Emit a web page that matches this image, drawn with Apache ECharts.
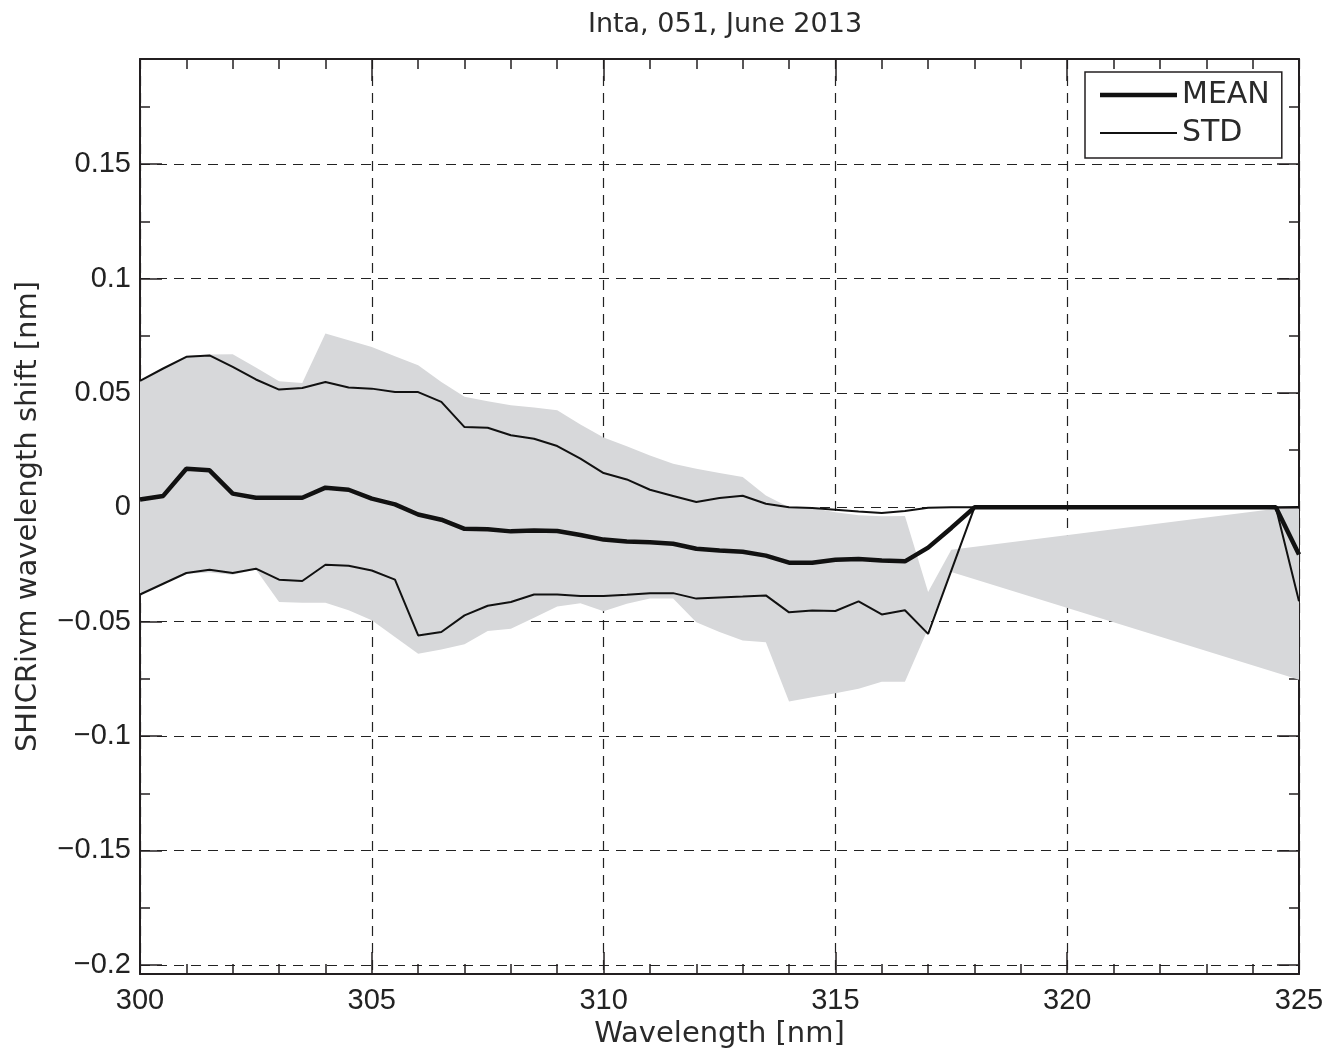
<!DOCTYPE html>
<html>
<head>
<meta charset="utf-8">
<script src="https://cdn.jsdelivr.net/npm/echarts@6/dist/echarts.min.js"></script>
<style>
html,body{margin:0;padding:0;background:#fff;}
#chart{width:1343px;height:1055px;}
</style>
</head>
<body>
<div id="chart"></div>
<script>
// Wavelength grid (nm)
const wavelength = [300,300.5,301,301.5,302,302.5,303,303.5,304,304.5,305,305.5,306,306.5,307,307.5,308,308.5,309,309.5,310,310.5,311,311.5,312,312.5,313,313.5,314,314.5,315,315.5,316,316.5,317,317.5,318,318.5,319,319.5,320,320.5,321,321.5,322,322.5,323,323.5,324,324.5,325];

// MEAN line
const meanShift = [0.0034,0.0050,0.0169,0.0162,0.0060,0.0042,0.0042,0.0042,0.0086,0.0077,0.0038,0.0013,-0.0031,-0.0054,-0.0094,-0.0096,-0.0105,-0.0101,-0.0103,-0.0121,-0.0141,-0.0149,-0.0153,-0.0159,-0.0181,-0.0189,-0.0194,-0.0211,-0.0242,-0.0242,-0.0229,-0.0226,-0.0232,-0.0236,-0.0176,-0.0090,0,0,0,0,0,0,0,0,0,0,0,0,0,0,-0.0206];

// STD lines (upper and lower)
const stdUpper = [0.0553,0.0607,0.0658,0.0664,0.0614,0.0559,0.0515,0.0522,0.0548,0.0524,0.0519,0.0504,0.0504,0.0461,0.0351,0.0348,0.0315,0.0300,0.0268,0.0213,0.0150,0.0122,0.0077,0.0050,0.0023,0.0041,0.0051,0.0016,0.0000,-0.0003,-0.0010,-0.0018,-0.0025,-0.0016,-0.0002,0,0,0,0,0,0,0,0,0,0,0,0,0,0,0,0.0002];
const stdLower = [-0.0381,-0.0334,-0.0287,-0.0273,-0.0287,-0.0268,-0.0316,-0.0322,-0.0251,-0.0255,-0.0276,-0.0316,-0.0560,-0.0545,-0.0472,-0.0430,-0.0414,-0.0381,-0.0381,-0.0388,-0.0388,-0.0382,-0.0375,-0.0375,-0.0399,-0.0394,-0.0390,-0.0385,-0.0459,-0.0451,-0.0453,-0.0411,-0.0468,-0.0450,-0.0553,-0.0277,0,0,0,0,0,0,0,0,0,0,0,0,0,0,-0.0410];

// Grey band envelope (null = no value)
const bandUpper = [0.0556,0.0610,0.0662,0.0668,0.0669,0.0611,0.0551,0.0544,0.0760,0.0730,0.0701,0.0661,0.0621,0.0548,0.0483,0.0464,0.0446,0.0436,0.0424,0.0362,0.0305,0.0267,0.0227,0.0191,0.0169,0.0150,0.0133,0.0052,0.0000,-0.0003,-0.0021,-0.0035,-0.0039,-0.0038,-0.0370,-0.0185,null,null,null,null,null,null,null,null,null,null,null,null,null,-0.0006,-0.0006];
const bandLower = [-0.0384,-0.0336,-0.0290,-0.0285,-0.0295,-0.0272,-0.0414,-0.0417,-0.0417,-0.0450,-0.0494,-0.0567,-0.0640,-0.0621,-0.0598,-0.0541,-0.0531,-0.0483,-0.0433,-0.0419,-0.0454,-0.0421,-0.0399,-0.0399,-0.0502,-0.0545,-0.0582,-0.0590,-0.0849,-0.0830,-0.0813,-0.0793,-0.0762,-0.0762,-0.0530,-0.0283,null,null,null,null,null,null,null,null,null,null,null,null,null,-0.0722,-0.0754];

// Axis ticks
const yMajorTicks = [-0.2,-0.15,-0.1,-0.05,0,0.05,0.1,0.15];
const yMinorTicks = [-0.175,-0.125,-0.075,-0.025,0.025,0.075,0.125,0.175];

const Y_MIN = -0.204, Y_MAX = 0.196;
const INK = '#231f20';
const TICK_FONT = '"Liberation Sans", Arial, sans-serif';
const NAME_FONT = '"DejaVu Sans", sans-serif';

function fmtY(v) {
  v = +(+v).toFixed(3);
  if (v === 0) return '0';
  return (v < 0 ? '\u2212' : '') + String(Math.abs(v));
}

const bandRows = [];
wavelength.forEach((w, i) => {
  if (bandUpper[i] != null && bandLower[i] != null) bandRows.push([w, bandLower[i], bandUpper[i]]);
});

const chart = echarts.init(document.getElementById('chart'), null, {renderer: 'canvas'});

const gridDash = {color: '#222', width: 1.2, type: [10, 7]};

chart.setOption({
  animation: false,
  backgroundColor: '#fff',
  title: {
    text: 'Inta, 051, June 2013',
    left: 720,
    top: 6,
    textAlign: 'center',
    textStyle: {fontFamily: NAME_FONT, fontSize: 27, fontWeight: 'normal', color: '#2a2a2a'}
  },
  legend: {
    data: [
      {name: 'MEAN', icon: 'path://M0,0h77v4.5h-77z', itemStyle: {color: '#111', borderWidth: 0}},
      {name: 'STD', icon: 'path://M0,0h77v2h-77z', itemStyle: {color: '#111', borderWidth: 0}}
    ],
    orient: 'vertical',
    left: 1085,
    top: 72,
    padding: [8, 12, 10, 15],
    itemGap: 8,
    itemWidth: 77,
    itemHeight: 14,
    symbolKeepAspect: true,
    selectedMode: false,
    borderColor: INK,
    borderWidth: 1.5,
    backgroundColor: '#fff',
    textStyle: {fontFamily: NAME_FONT, fontSize: 30, color: '#2a2a2a', lineHeight: 30}
  },
  grid: {left: 140, right: 44, top: 59, bottom: 81, containLabel: false},
  xAxis: [
    {
      type: 'value', position: 'bottom', min: 300, max: 325, interval: 5,
      name: 'Wavelength [nm]', nameLocation: 'middle', nameGap: 38,
      nameTextStyle: {fontFamily: NAME_FONT, fontSize: 29, color: '#2a2a2a'},
      axisLine: {show: true, onZero: false, lineStyle: {color: INK, width: 2}},
      axisTick: {show: true, inside: true, length: 22, lineStyle: {color: INK, width: 1.5}},
      minorTick: {show: true, splitNumber: 5, length: 10, lineStyle: {color: INK, width: 1.5}},
      axisLabel: {fontFamily: TICK_FONT, fontSize: 29, color: '#222', margin: 12},
      splitLine: {show: true, lineStyle: gridDash}
    },
    {
      type: 'value', position: 'top', min: 300, max: 325, interval: 5,
      axisLine: {show: true, onZero: false, lineStyle: {color: INK, width: 2}},
      axisTick: {show: true, inside: true, length: 22, lineStyle: {color: INK, width: 1.5}},
      minorTick: {show: true, splitNumber: 5, length: 10, lineStyle: {color: INK, width: 1.5}},
      axisLabel: {show: false},
      splitLine: {show: false}
    }
  ],
  yAxis: [
    {
      type: 'value', position: 'left', min: Y_MIN, max: Y_MAX,
      name: 'SHICRivm wavelength shift [nm]', nameLocation: 'middle', nameGap: 97,
      nameTextStyle: {fontFamily: NAME_FONT, fontSize: 29, color: '#2a2a2a'},
      axisLine: {show: true, onZero: false, lineStyle: {color: INK, width: 2}},
      axisTick: {show: true, inside: true, length: 22, customValues: yMajorTicks, lineStyle: {color: INK, width: 1.5}},
      axisLabel: {fontFamily: TICK_FONT, fontSize: 29, color: '#222', margin: 9, customValues: yMajorTicks, formatter: fmtY},
      splitLine: {show: true, lineStyle: gridDash}
    },
    {
      type: 'value', position: 'left', min: Y_MIN, max: Y_MAX,
      axisLine: {show: false},
      axisTick: {show: true, inside: true, length: 10, customValues: yMinorTicks, lineStyle: {color: INK, width: 1.5}},
      axisLabel: {show: false},
      splitLine: {show: false}
    },
    {
      type: 'value', position: 'right', min: Y_MIN, max: Y_MAX,
      axisLine: {show: true, onZero: false, lineStyle: {color: INK, width: 2}},
      axisTick: {show: true, inside: true, length: 22, customValues: yMajorTicks, lineStyle: {color: INK, width: 1.5}},
      axisLabel: {show: false},
      splitLine: {show: false}
    },
    {
      type: 'value', position: 'right', min: Y_MIN, max: Y_MAX,
      axisLine: {show: false},
      axisTick: {show: true, inside: true, length: 10, customValues: yMinorTicks, lineStyle: {color: INK, width: 1.5}},
      axisLabel: {show: false},
      splitLine: {show: false}
    }
  ],
  series: [
    {
      name: 'band',
      type: 'custom',
      xAxisIndex: 0, yAxisIndex: 0,
      clip: true,
      z: 1,
      silent: true,
      encode: {x: 0, y: [1, 2]},
      data: bandRows,
      renderItem: function (params, api) {
        if (params.dataIndex !== 0) return null;
        const pts = [];
        for (let i = 0; i < wavelength.length; i++) {
          if (bandUpper[i] != null) pts.push(api.coord([wavelength[i], bandUpper[i]]));
        }
        for (let i = wavelength.length - 1; i >= 0; i--) {
          if (bandLower[i] != null) pts.push(api.coord([wavelength[i], bandLower[i]]));
        }
        return {type: 'polygon', shape: {points: pts}, style: {fill: '#d7d8da', stroke: null}};
      }
    },
    {
      name: 'STD', type: 'line', xAxisIndex: 0, yAxisIndex: 0, z: 3,
      symbol: 'none', silent: true,
      data: wavelength.map((w, i) => [w, stdUpper[i]]),
      lineStyle: {color: '#111', width: 2}, itemStyle: {color: '#111'}
    },
    {
      name: 'STD', type: 'line', xAxisIndex: 0, yAxisIndex: 0, z: 3,
      symbol: 'none', silent: true,
      data: wavelength.map((w, i) => [w, stdLower[i]]),
      lineStyle: {color: '#111', width: 2}, itemStyle: {color: '#111'}
    },
    {
      name: 'MEAN', type: 'line', xAxisIndex: 0, yAxisIndex: 0, z: 4,
      symbol: 'none', silent: true,
      data: wavelength.map((w, i) => [w, meanShift[i]]),
      lineStyle: {color: '#111', width: 4.5}, itemStyle: {color: '#111'}
    }
  ]
});
</script>
</body>
</html>
